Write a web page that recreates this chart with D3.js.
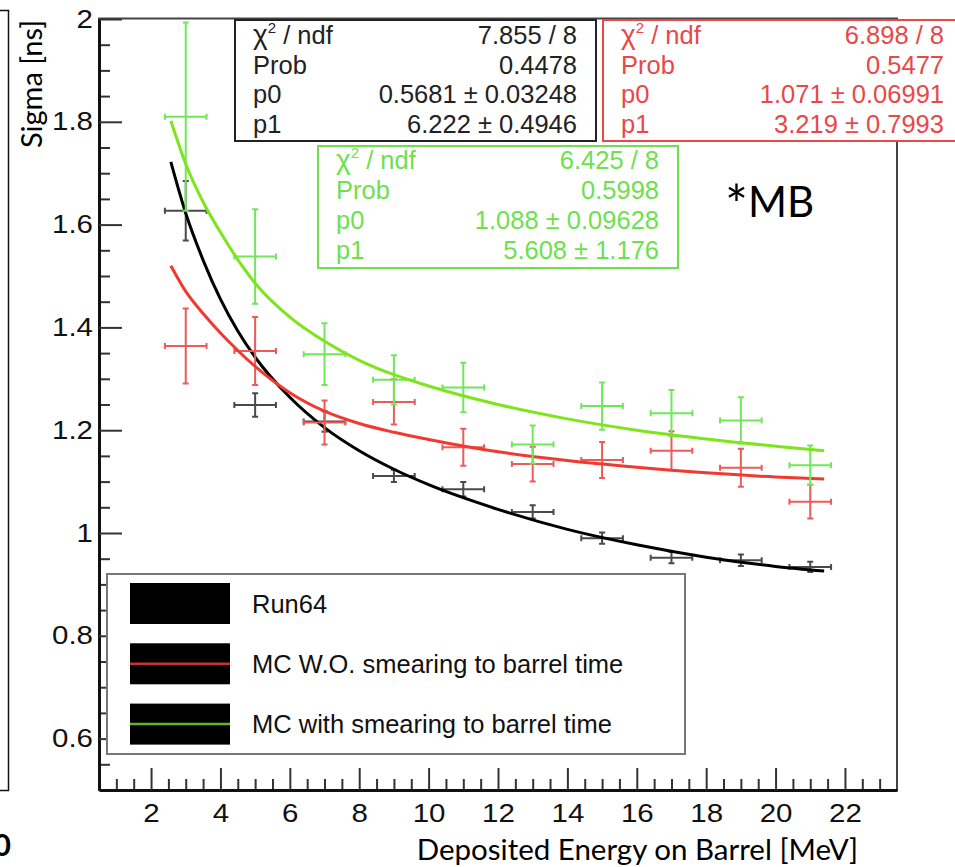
<!DOCTYPE html>
<html>
<head>
<meta charset="utf-8">
<script src="https://cdn.jsdelivr.net/npm/d3@7"></script>
<style>
  body { margin: 0; background: #fff; }
  svg { display: block; }
</style>
</head>
<body>
<div id="chart"></div>
<script>
// energy bins (MeV) and half width of the x error bars
var energy = [3, 5, 7, 9, 11, 13, 15, 17, 19, 21];
var energyErr = [0.6, 0.6, 0.6, 0.6, 0.6, 0.6, 0.6, 0.6, 0.6, 0.6];

// Run64 data
var run64Sigma = [1.627, 1.249, 1.217, 1.111, 1.085, 1.041, 0.990, 0.952, 0.947, 0.934];
var run64Err   = [0.058, 0.023, 0.020, 0.012, 0.014, 0.013, 0.011, 0.011, 0.011, 0.010];

// MC without smearing
var noSmearSigma = [1.364, 1.354, 1.215, 1.255, 1.167, 1.134, 1.142, 1.160, 1.127, 1.061];
var noSmearErr   = [0.073, 0.066, 0.043, 0.044, 0.036, 0.034, 0.035, 0.038, 0.037, 0.033];

// MC with smearing
var smearSigma = [1.810, 1.538, 1.348, 1.298, 1.283, 1.172, 1.247, 1.233, 1.219, 1.132];
var smearErr   = [0.183, 0.092, 0.060, 0.048, 0.048, 0.037, 0.046, 0.045, 0.045, 0.038];

// fit curves
var fitEnergy    = [2.57, 3, 3.5, 4, 4.5, 5, 6, 7, 8, 9, 10, 12, 14, 16, 18, 20, 21.4];
var run64Fit     = [1.722, 1.622, 1.531, 1.455, 1.393, 1.342, 1.264, 1.205, 1.160, 1.124, 1.094, 1.046, 1.007, 0.977, 0.953, 0.935, 0.926];
var noSmearFit   = [1.520, 1.470, 1.427, 1.389, 1.355, 1.324, 1.273, 1.237, 1.213, 1.196, 1.182, 1.158, 1.141, 1.128, 1.117, 1.109, 1.105];
var smearFit     = [1.802, 1.718, 1.644, 1.585, 1.532, 1.486, 1.420, 1.373, 1.336, 1.308, 1.286, 1.250, 1.222, 1.200, 1.183, 1.169, 1.160];

// axis ticks
var xTicks = [2, 4, 6, 8, 10, 12, 14, 16, 18, 20, 22];
var xMinor = [1, 1.5, 2.5, 3, 3.5, 4.5, 5, 5.5, 6.5, 7, 7.5, 8.5, 9, 9.5, 10.5, 11, 11.5, 12.5, 13, 13.5,
              14.5, 15, 15.5, 16.5, 17, 17.5, 18.5, 19, 19.5, 20.5, 21, 21.5, 22.5, 23];
var yTicks = [0.6, 0.8, 1, 1.2, 1.4, 1.6, 1.8, 2];
var yMinor = [0.55, 0.65, 0.7, 0.75, 0.85, 0.9, 0.95, 1.05, 1.1, 1.15, 1.25, 1.3, 1.35,
              1.45, 1.5, 1.55, 1.65, 1.7, 1.75, 1.85, 1.9, 1.95];

// fit boxes
var statNames    = ["/ ndf", "Prob", "p0", "p1"];
var run64Stats   = ["7.855 / 8", "0.4478", "0.5681 \u00B1 0.03248", "6.222 \u00B1 0.4946"];
var noSmearStats = ["6.898 / 8", "0.5477", "1.071 \u00B1 0.06991", "3.219 \u00B1 0.7993"];
var smearStats   = ["6.425 / 8", "0.5998", "1.088 \u00B1 0.09628", "5.608 \u00B1 1.176"];

var legendNames = ["Run64", "MC W.O. smearing to barrel time", "MC with smearing to barrel time"];

var ROOT_FONT = "'Liberation Sans', Arial, sans-serif";
var PPT_FONT = "Lato, 'Open Sans', sans-serif";

// the tick labels of the picture are a bit wider than plain Helvetica
function widen(sel, k){
	sel.each(function(){
		var w = this.getComputedTextLength();
		d3.select(this)
			.attr("textLength", w * k)
			.attr("lengthAdjust", "spacingAndGlyphs");
	});
}

function draw(divid){
	var W = 955, H = 867;
	var frame = {left: 99, right: 897, top: 19, bottom: 790};

	var svg = d3.select(divid).append("svg")
		.attr("width", W)
		.attr("height", H);

	var x = d3.scaleLinear().domain([0.5, 23.5]).range([frame.left, frame.right]);
	var y = d3.scaleLinear().domain([0.5, 2]).range([frame.bottom, frame.top]);

	// leftover frame of the neighbouring picture
	svg.append("path")
		.attr("d", "M0,10.5 H8.5 V790.5 H0")
		.attr("fill", "none")
		.attr("stroke", "#111")
		.attr("stroke-width", 1.5);
	svg.append("text")
		.attr("x", 11)
		.attr("y", 856)
		.attr("text-anchor", "end")
		.attr("font-family", PPT_FONT)
		.attr("font-weight", "bold")
		.attr("font-size", "30px")
		.text("0");

	// plot frame
	svg.append("rect")
		.attr("x", frame.left)
		.attr("y", frame.top - 0.5)
		.attr("width", frame.right - frame.left)
		.attr("height", frame.bottom - frame.top + 0.5)
		.attr("fill", "none")
		.attr("stroke", "#444")
		.attr("stroke-width", 2);

	// y axis
	svg.append("g")
		.attr("transform", "translate(" + frame.left + ",0)")
		.call(d3.axisLeft(y).tickValues(yMinor).tickSizeInner(-11).tickSizeOuter(0).tickFormat(""))
		.call(g => g.select(".domain").remove())
		.selectAll("line").attr("stroke", "#333").attr("stroke-width", 2);

	var yAxis = svg.append("g")
		.attr("transform", "translate(" + frame.left + ",0)")
		.call(d3.axisLeft(y).tickValues(yTicks).tickSizeInner(-23).tickSizeOuter(0).tickPadding(6)
			.tickFormat(d => String(d)));
	yAxis.select(".domain").attr("stroke", "#111").attr("stroke-width", 3);
	yAxis.selectAll("line").attr("stroke", "#333").attr("stroke-width", 2);
	yAxis.selectAll("text")
		.attr("font-family", ROOT_FONT)
		.attr("font-size", "25px")
		.attr("fill", "#111")
		.call(widen, 1.18);

	// x axis
	svg.append("g")
		.attr("transform", "translate(0," + frame.bottom + ")")
		.call(d3.axisBottom(x).tickValues(xMinor).tickSizeInner(-11).tickSizeOuter(0).tickFormat(""))
		.call(g => g.select(".domain").remove())
		.selectAll("line").attr("stroke", "#333").attr("stroke-width", 2);

	var xAxis = svg.append("g")
		.attr("transform", "translate(0," + frame.bottom + ")")
		.call(d3.axisBottom(x).tickValues(xTicks).tickSizeInner(-22).tickSizeOuter(0).tickPadding(14)
			.tickFormat(d => String(d)));
	xAxis.select(".domain").attr("stroke", "#111").attr("stroke-width", 3);
	xAxis.selectAll("line").attr("stroke", "#333").attr("stroke-width", 2);
	xAxis.selectAll("text")
		.attr("font-family", ROOT_FONT)
		.attr("font-size", "25px")
		.attr("fill", "#111")
		.call(widen, 1.18);

	// axis titles (added on top of the ROOT picture)
	svg.append("text")
		.attr("transform", "translate(42,84) rotate(-90)")
		.attr("text-anchor", "middle")
		.attr("font-family", PPT_FONT)
		.attr("font-size", "29px")
		.attr("fill", "#000")
		.text("Sigma [ns]");

	svg.append("text")
		.attr("x", 858)
		.attr("y", 860)
		.attr("text-anchor", "end")
		.attr("font-family", PPT_FONT)
		.attr("font-size", "29.5px")
		.attr("fill", "#000")
		.text("Deposited Energy on Barrel [MeV]");

	// one graph with its fit
	function drawSeries(sigma, err, fit, barColor, lineColor){
		var g = svg.append("g");
		var pts = energy.map(function(e, i){ return {e: e, ex: energyErr[i], v: sigma[i], ev: err[i]}; });
		var cap = 3;

		var bars = g.selectAll(".bar")
			.data(pts)
			.enter()
			.append("g")
			.attr("stroke", barColor)
			.attr("stroke-width", 2)
			.attr("fill", "none");

		bars.append("line")
			.attr("x1", d => x(d.e)).attr("x2", d => x(d.e))
			.attr("y1", d => y(d.v - d.ev)).attr("y2", d => y(d.v + d.ev));
		bars.append("line")
			.attr("x1", d => x(d.e - d.ex)).attr("x2", d => x(d.e + d.ex))
			.attr("y1", d => y(d.v)).attr("y2", d => y(d.v));
		// caps
		bars.append("path")
			.attr("d", function(d){
				var xc = x(d.e), yc = y(d.v);
				var yt = y(d.v + d.ev), yb = y(d.v - d.ev);
				var xl = x(d.e - d.ex), xr = x(d.e + d.ex);
				return "M" + (xc - cap) + "," + yt + "H" + (xc + cap) +
					"M" + (xc - cap) + "," + yb + "H" + (xc + cap) +
					"M" + xl + "," + (yc - cap) + "V" + (yc + cap) +
					"M" + xr + "," + (yc - cap) + "V" + (yc + cap);
			});

		var line = d3.line()
			.x(function(d, i){ return x(fitEnergy[i]); })
			.y(function(d){ return y(d); })
			.curve(d3.curveMonotoneX);

		g.append("path")
			.datum(fit)
			.attr("d", line)
			.attr("fill", "none")
			.attr("stroke", lineColor)
			.attr("stroke-width", 3);
	}

	drawSeries(run64Sigma, run64Err, run64Fit, "#4a4a4a", "#000");
	drawSeries(noSmearSigma, noSmearErr, noSmearFit, "#ec5a5a", "#f03a30");
	drawSeries(smearSigma, smearErr, smearFit, "#6ee85a", "#7ee41c");

	// fit stat boxes
	function statBox(x0, y0, w, h, vals, color, rowBase, rowStep){
		var g = svg.append("g");
		g.append("rect")
			.attr("x", x0).attr("y", y0)
			.attr("width", w).attr("height", h)
			.attr("fill", "#fff")
			.attr("stroke", color)
			.attr("stroke-width", 2);

		statNames.forEach(function(name, i){
			var t = g.append("text")
				.attr("x", x0 + 18)
				.attr("y", rowBase + i * rowStep)
				.attr("font-family", ROOT_FONT)
				.attr("font-size", "25.5px")
				.attr("fill", color);
			if(i == 0){
				t.append("tspan").attr("font-size", "28px").text("\u03C7");
				t.append("tspan").attr("font-size", "15px").attr("dy", -11).text("2");
				t.append("tspan").attr("dy", 11).text(" " + name);
			} else {
				t.text(name);
			}
			g.append("text")
				.attr("x", x0 + w - 19)
				.attr("y", rowBase + i * rowStep)
				.attr("text-anchor", "end")
				.attr("font-family", ROOT_FONT)
				.attr("font-size", "25.5px")
				.attr("fill", color)
				.text(vals[i]);
		});
	}

	statBox(235, 20, 361, 121, run64Stats, "#222", 44, 29.5);
	statBox(603, 20, 360, 121, noSmearStats, "#e84848", 44, 29.5);
	statBox(318, 146, 360, 122, smearStats, "#6ee04e", 168.5, 30.3);

	var mb = svg.append("text")
		.attr("x", 725)
		.attr("y", 217)
		.attr("font-family", PPT_FONT)
		.attr("font-size", "42px")
		.attr("fill", "#000");
	mb.append("tspan").attr("font-size", "54px").attr("dy", 7).text("*");
	mb.append("tspan").attr("dy", -7).text("MB");

	// legend
	var leg = svg.append("g");
	leg.append("rect")
		.attr("x", 107).attr("y", 574)
		.attr("width", 578).attr("height", 180)
		.attr("fill", "#fff")
		.attr("stroke", "#777")
		.attr("stroke-width", 2);

	var legColors = [null, "#c83232", "#5cb82a"];
	legendNames.forEach(function(name, i){
		var cy = 603.5 + i * 60.3;
		leg.append("rect")
			.attr("x", 130).attr("y", cy - 20.5)
			.attr("width", 100).attr("height", 41)
			.attr("fill", "#000");
		if(legColors[i]){
			leg.append("line")
				.attr("x1", 130).attr("x2", 230)
				.attr("y1", cy).attr("y2", cy)
				.attr("stroke", legColors[i])
				.attr("stroke-width", 2.5);
		}
		leg.append("text")
			.attr("x", 252)
			.attr("y", cy + 9)
			.attr("font-family", ROOT_FONT)
			.attr("font-size", "25.5px")
			.attr("fill", "#111")
			.text(name);
	});
}

draw("#chart");
</script>
</body>
</html>
